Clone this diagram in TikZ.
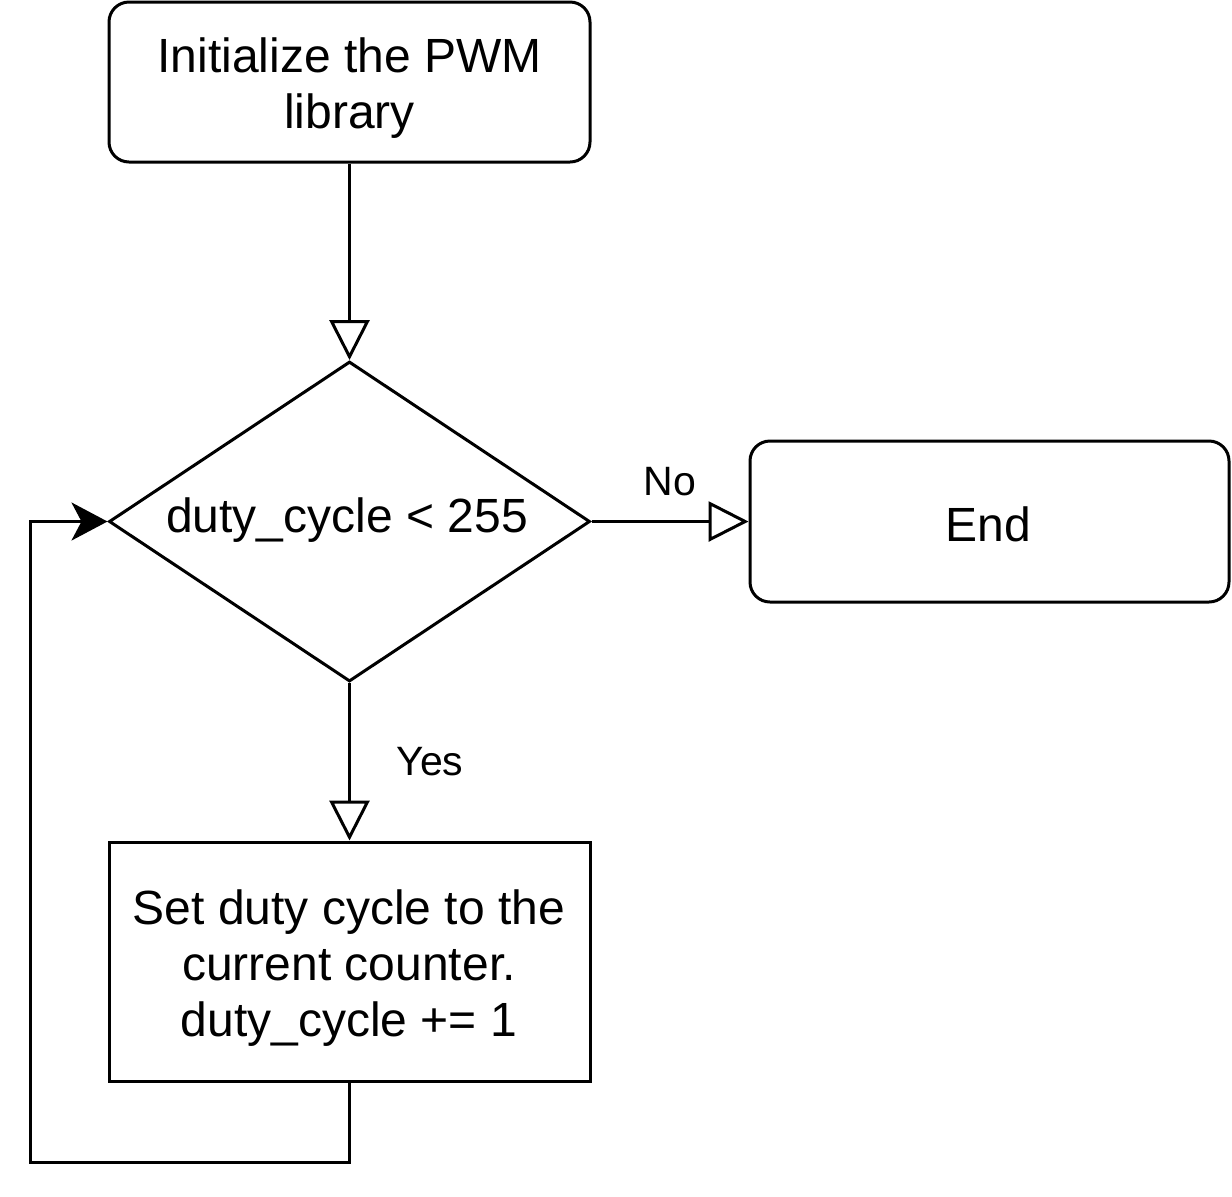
\documentclass[tikz,border=0pt]{standalone}
\usepackage{fontspec}
\setmainfont{Liberation Sans}
\usetikzlibrary{shapes.geometric,arrows.meta}
\begin{document}
\begin{tikzpicture}[x=0.5pt,y=-0.5pt,
  every node/.style={font=\fontsize{24}{28}\selectfont},
  base/.style={draw, line width=1.5pt, inner sep=0pt, align=center},
  roundbox/.style={base, rounded corners=10pt},
  plainbox/.style={base},
  txt/.style={inner sep=0pt, align=center},
  decbox/.style={draw, line width=1.5pt, diamond, inner sep=0pt, minimum width=240.5pt, minimum height=160pt},
  flow/.style={line width=1.5pt, -{Triangle[open, length=20pt, width=20pt, line width=1.5pt]}},
  loopflow/.style={line width=1.5pt, -{Stealth[length=18pt, width=19pt, inset=5pt]}},
  lbl/.style={font=\fontsize{20.5}{24}\selectfont, inner sep=0pt}
]
\useasboundingbox (0,0) rectangle (1232,1196);
\node[roundbox, minimum width=240.5pt, minimum height=80pt] (init) at (349.5,82) {};
\node[txt] (inittext) at (349.5,88) {Initialize the PWM\\library};
\node[decbox] (dec) at (349.5,521.5) {};
\node[txt] (dectext) at (347,520) {duty\_cycle < 255};
\node[roundbox, minimum width=239.5pt, minimum height=80.5pt] (end) at (989.5,521.5) {};
\node[txt] (endtext) at (988,524) {End};
\node[plainbox, minimum width=240.5pt, minimum height=119.5pt] (set) at (349.5,961.5) {};
\node[txt] (settext) at (349,968) {Set duty cycle to the\\current counter.\\duty\_cycle += 1};
\coordinate (lb) at (30,1162);
\draw[flow] (init.south) -- (dec.north);
\draw[flow] (dec.east) -- (end.west);
\draw[flow] (dec.south) -- (set.north);
\draw[loopflow, line join=miter] (set.south) |- (lb) |- (dec.west);
\node[lbl] (nolbl) at (670,482) {No};
\node[lbl] (yeslbl) at (430,762) {Yes};
\end{tikzpicture}
\end{document}
